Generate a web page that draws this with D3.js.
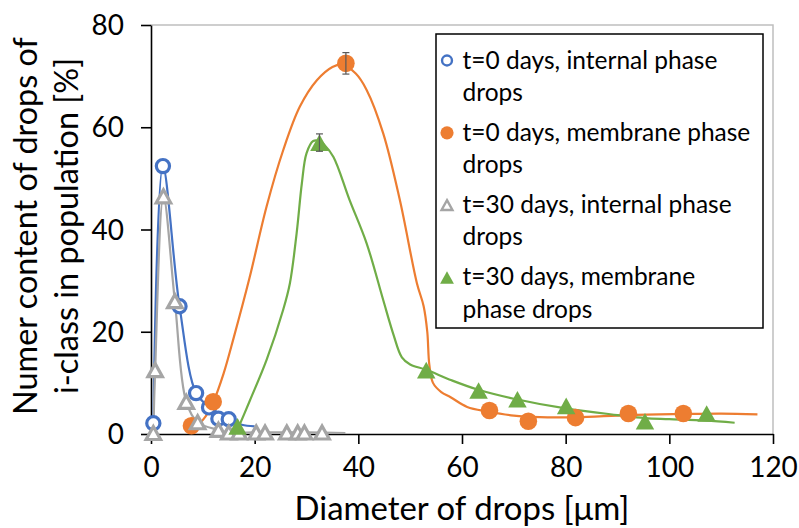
<!DOCTYPE html>
<html><head><meta charset="utf-8">
<script src="https://cdn.jsdelivr.net/npm/d3@7"></script>
<style>body{margin:0;background:#fff}svg{display:block}</style>
</head><body><svg id="c" width="799" height="528"></svg>
<script>
// ---------- data ----------
const xTicks = [0, 20, 40, 60, 80, 100, 120];
const yTicks = [0, 20, 40, 60, 80];
const xTitle = "Diameter of drops [μm]";
const yTitle = ["Numer content of drops of", "i-class in population [%]"];
const legendLabels = [
  ["t=0 days, internal phase", "drops"],
  ["t=0 days, membrane phase", "drops"],
  ["t=30 days, internal phase", "drops"],
  ["t=30 days, membrane", "phase drops"]
];
// markers [diameter, %]
const t0Internal = [[0.45,2.1],[2.3,52.4],[5.5,25],[8.7,8],[11.2,5.2],[13,3],[15,2.9]];
const t0Membrane = [[7.8,1.6],[12,6.3],[37.6,72.5],[65.3,4.6],[72.8,2.5],[81.9,3.2],[92.1,4.0],[102.7,4.0]];
const t30Internal = [[0.45,0.2],[0.8,12.5],[2.4,46.5],[4.6,26],[6.8,6.3],[9,2.3],[13,0.8],[15,0.3],[17,0.3],[20.3,0.3],[22,0.3],[26.2,0.3],[28.3,0.3],[29.6,0.3],[33,0.3]];
const t30Membrane = [[16.7,1.5],[32.5,57],[53.1,12.5],[63.2,8.5],[70.7,6.8],[80.1,5.5],[95.3,2.5],[107.2,4.0]];
// error bars [diameter, %, ±]
const t0MembraneErr = [[37.6,72.5,2.1]];
const t30MembraneErr = [[32.5,57,1.7]];
// smoothed curves [diameter, %]
const t0InternalCurve = [[0.45,2.1],[2.3,52.4],[5.5,25],[8.7,8],[11.2,5.2],[13,3],[15,2.9],[17.5,1.8],[20,1.5]];
const t0MembraneCurve = [[7.6,1.4],[9,1.8],[10.5,3.4],[12,6.2],[14,11.8],[16,19],[19,30.5],[22.3,44.5],[25.5,55.5],[28.7,64],[32,69.2],[35,71.8],[36.8,72.3],[39.5,70.5],[41.6,67.3],[44.8,58.8],[48,45.8],[51.3,29.5],[52.6,25],[53.3,20],[53.7,13.5],[54.4,10],[56,8.2],[57.8,7.2],[61,5.3],[65,4.4],[70,3.6],[75,3.3],[82,3.3],[92,3.7],[102,3.9],[110,4.0],[117,3.85]];
const t30InternalCurve = [[0.45,0.2],[0.8,12.5],[2.4,46.5],[4.6,26],[6.8,6.3],[9,2.3],[13,0.8],[15,0.3],[20,0.3],[25,0.3],[30,0.3],[37.5,0.2]];
const t30MembraneCurve = [[16.5,0.4],[19.1,6.6],[22.3,14.5],[25.5,24.3],[26.8,29.5],[28.1,39.3],[29.1,49],[30,54.9],[31.3,57.3],[32.5,57.3],[33.5,56.5],[35.2,54.2],[38.3,45.8],[41.6,37.3],[44.8,26.2],[46.7,19.7],[48.4,15],[50,13.6],[53,12.6],[58,10.5],[63,8.7],[70,6.9],[80,5.0],[90,3.7],[95.3,3.1],[100,2.9],[107,2.6],[112.6,2.2]];

// ---------- drawing ----------
const svg = d3.select("#c");
const FONT = "Lato, 'Open Sans', sans-serif";
const x = d3.scaleLinear().domain([0,120]).range([151,773]);
const y = d3.scaleLinear().domain([0,80]).range([434,25]);

function fitSize(str, target){
  const t = svg.append("text").attr("font-family",FONT).attr("font-size",100).text(str);
  const w = t.node().getComputedTextLength(); t.remove();
  return 100*target/w;
}
const legendSize = fitSize(legendLabels[0][0], 255);
const ratio = legendSize/26.3;
const tickSize = 30*ratio;
const titleSize = fitSize(xTitle, 335);
const yTitleSize = fitSize(yTitle[0], 378);

const colors = {blue:"#4472C4", orange:"#ED7D31", gray:"#A5A5A5", green:"#70AD47"};

// plot border (top & right)
svg.append("path").attr("d",`M${x(0)},${y(80)}H${x(120)}V${y(0)}`)
  .attr("fill","none").attr("stroke","#bfbfbf").attr("stroke-width",1.5);

// axes
const gx = svg.append("g").attr("transform",`translate(0,${y(0)})`)
  .call(d3.axisBottom(x).tickValues(xTicks).tickSize(10).tickSizeOuter(0).tickPadding(13));
const gy = svg.append("g").attr("transform",`translate(${x(0)},0)`)
  .call(d3.axisLeft(y).tickValues(yTicks).tickSize(10).tickSizeOuter(0).tickPadding(17));
[gx,gy].forEach(g=>{
  g.select(".domain").attr("stroke","#000").attr("stroke-width",1.6);
  g.selectAll(".tick line").attr("stroke","#000").attr("stroke-width",1.6);
  g.selectAll(".tick text").attr("font-family",FONT).attr("font-size",tickSize).attr("fill","#000");
});
gy.selectAll(".tick text").attr("dy","0.34em");
gx.selectAll(".tick text").attr("dy","0.71em");

// titles
svg.append("text").attr("x",462).attr("y",520).attr("text-anchor","middle")
  .attr("font-family",FONT).attr("font-size",titleSize).text(xTitle);
const yt = svg.append("text").attr("transform","translate(0,226) rotate(-90)")
  .attr("text-anchor","middle").attr("font-family",FONT).attr("font-size",yTitleSize);
yt.append("tspan").attr("x",0).attr("y",37).text(yTitle[0]);
yt.append("tspan").attr("x",0).attr("y",78).text(yTitle[1]);

// curves
const line = d3.line().x(d=>x(d[0])).y(d=>y(d[1])).curve(d3.curveCatmullRom.alpha(0.5));
[[t0InternalCurve,colors.blue],[t0MembraneCurve,colors.orange],[t30InternalCurve,colors.gray],[t30MembraneCurve,colors.green]]
  .forEach(([d,c])=>svg.append("path").attr("d",line(d)).attr("fill","none").attr("stroke",c).attr("stroke-width",2.2));

// marker helpers
function tri(w){const h=w*0.9;return `M0,${-h/2}L${w/2},${h/2}L${-w/2},${h/2}Z`;}
function drawMarker(g, type, s){
  if(type==="openCircle") g.append("circle").attr("r",6.6*s).attr("fill","#fff").attr("stroke",colors.blue).attr("stroke-width",3.2*s);
  if(type==="fillCircle") g.append("circle").attr("r",8.8*s).attr("fill",colors.orange);
  if(type==="openTri") g.append("path").attr("d",tri(14.5*s)).attr("fill","#fff").attr("stroke",colors.gray).attr("stroke-width",3.2*s).attr("stroke-linejoin","miter");
  if(type==="fillTri") g.append("path").attr("d",tri(18.5*s)).attr("fill",colors.green);
}
const seriesMarkers = [[t0Internal,"openCircle"],[t0Membrane,"fillCircle"],[t30Internal,"openTri"],[t30Membrane,"fillTri"]];
seriesMarkers.forEach(([data,type])=>{
  svg.append("g").selectAll("g").data(data).join("g")
    .attr("transform",d=>`translate(${x(d[0])},${y(d[1])})`)
    .each(function(){drawMarker(d3.select(this),type,1);});
});

// error bars
[...t0MembraneErr,...t30MembraneErr].forEach(d=>{
  const g = svg.append("g").attr("stroke","#595959").attr("stroke-width",1.2);
  const cx=x(d[0]), y1=y(d[1]+d[2]), y2=y(d[1]-d[2]);
  g.append("line").attr("x1",cx).attr("x2",cx).attr("y1",y1).attr("y2",y2);
  g.append("line").attr("x1",cx-3.5).attr("x2",cx+3.5).attr("y1",y1).attr("y2",y1);
  g.append("line").attr("x1",cx-3.5).attr("x2",cx+3.5).attr("y1",y2).attr("y2",y2);
});

// legend
const lg = svg.append("g");
lg.append("rect").attr("x",436).attr("y",34).attr("width",327).attr("height",294)
  .attr("fill","#fff").attr("stroke","#000").attr("stroke-width",1.5);
const legTypes = ["openCircle","fillCircle","openTri","fillTri"];
legendLabels.forEach((lab,i)=>{
  const base = 68.5 + i*72.3;
  const m = lg.append("g").attr("transform",`translate(447,${base-8})`);
  drawMarker(m, legTypes[i], 0.75);
  const t = lg.append("text").attr("font-family",FONT).attr("font-size",legendSize).attr("fill","#000");
  t.append("tspan").attr("x",462.5).attr("y",base).text(lab[0]);
  t.append("tspan").attr("x",462.5).attr("y",base+32.3).text(lab[1]);
});
</script>
</body></html>
